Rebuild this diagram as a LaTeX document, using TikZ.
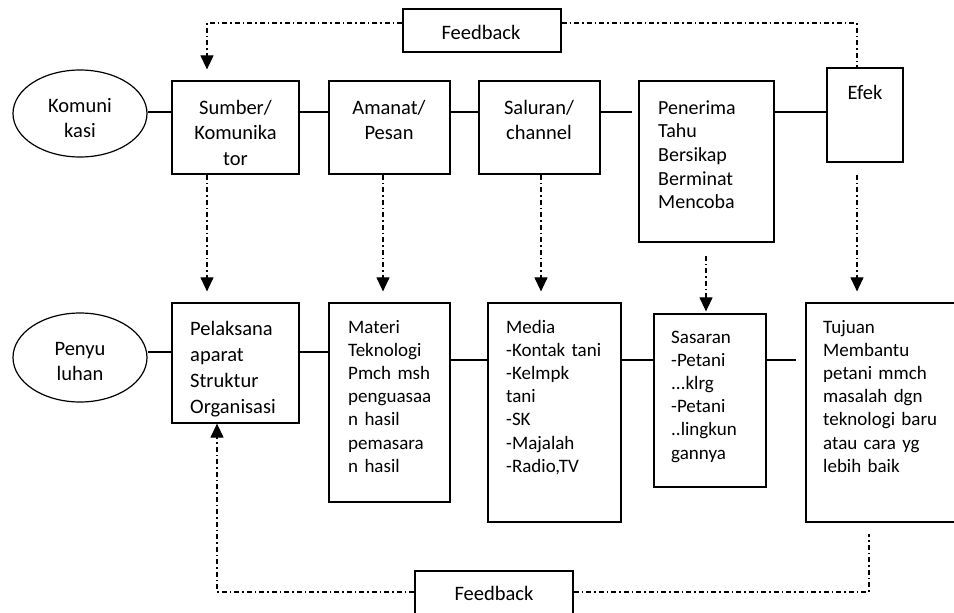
\documentclass[tikz,border=0pt]{standalone}
\usepackage{fontspec}
\setmainfont{Carlito}
\usetikzlibrary{arrows.meta,shapes.geometric}
\tikzset{
  box/.style={draw, line width=1.2pt, inner sep=0pt},
  oval/.style={draw, ellipse, line width=1.2pt, inner sep=0pt},
  bigtxt/.style={inner sep=0pt, font=\fontsize{20.5}{25.5}\selectfont, text width=150pt},
  smalltxt/.style={inner sep=0pt, font=\fontsize{19}{23.2}\selectfont, text width=150pt},
  link/.style={line width=1.2pt},
  fbline/.style={line width=1.1pt, dash pattern=on 5pt off 3pt on 1.5pt off 3pt},
  fbarrow/.style={fbline, -{Triangle[width=13pt,length=14pt]}}
}
\begin{document}
\begin{tikzpicture}[x=1pt,y=-1pt]
\useasboundingbox (0,0) rectangle (954,613);
\fill[white] (0,0) rectangle (954,613);
\clip (0,0) rectangle (954,613);

% ---- top row ----
\node[oval, minimum width=134, minimum height=87] (kom) at (80,113.5) {};
\node[box, minimum width=127, minimum height=93] (sum) at (235.5,127.5) {};
\node[box, minimum width=121, minimum height=93] (ama) at (389.5,127.5) {};
\node[box, minimum width=121, minimum height=93] (sal) at (539.5,127.5) {};
\node[box, minimum width=135, minimum height=161] (pen) at (706.5,161.5) {};
\node[box, minimum width=76, minimum height=94] (efk) at (865,115) {};
\node[box, minimum width=158, minimum height=43] (fbt) at (482,30.5) {};

\node[bigtxt, align=center, anchor=base] (komt) at (80,112) {Komuni\\kasi};
\node[bigtxt, align=center, anchor=base] (sumt) at (235.5,114) {Sumber/\\Komunika\\tor};
\node[bigtxt, align=center, anchor=base] (amat) at (389,114) {Amanat/\\Pesan};
\node[bigtxt, align=center, anchor=base] (salt) at (539,114) {Saluran/\\channel};
\node[bigtxt, align=left, anchor=base west, font=\fontsize{20}{23.7}\selectfont] (pent) at (658,114) {Penerima\\Tahu\\Bersikap\\Berminat\\Mencoba};
\node[bigtxt, align=center, anchor=base] (efkt) at (865,99) {Efek};
\node[bigtxt, align=center, anchor=base] (fbtt) at (481,39) {Feedback};

% ---- bottom row ----
\node[oval, minimum width=134, minimum height=89] (pny) at (80,357.5) {};
\node[box, minimum width=127, minimum height=120] (pel) at (235.5,363) {};
\node[box, minimum width=121, minimum height=199] (mat) at (389.5,402.5) {};
\node[box, minimum width=133, minimum height=219] (med) at (554.5,412.5) {};
\node[box, minimum width=112, minimum height=173] (sas) at (710,400.5) {};
\node[box, minimum width=164, minimum height=219] (tuj) at (888,412.5) {};
\node[box, minimum width=158, minimum height=54] (fbb) at (494,598) {};

\node[bigtxt, align=center, anchor=base] (pnyt) at (80,355) {Penyu\\luhan};
\node[bigtxt, align=left, anchor=base west, font=\fontsize{20.5}{26.3}\selectfont] (pelt) at (190,335) {Pelaksana\\aparat\\Struktur\\Organisasi};
\node[smalltxt, align=left, anchor=base west] (matt) at (348,333) {Materi\\Teknologi\\Pmch msh\\penguasaa\\n hasil\\pemasara\\n hasil};
\node[smalltxt, align=left, anchor=base west] (medt) at (506,333) {Media\\-Kontak tani\\-Kelmpk\\tani\\-SK\\-Majalah\\-Radio,TV};
\node[smalltxt, align=left, anchor=base west] (sast) at (671,343) {Sasaran\\-Petani\\...klrg\\-Petani\\..lingkun\\gannya};
\node[smalltxt, align=left, anchor=base west] (tujt) at (823,333) {Tujuan\\Membantu\\petani mmch\\masalah dgn\\teknologi baru\\atau cara yg\\lebih baik};
\node[bigtxt, align=center, anchor=base] (fbbt) at (494,600) {Feedback};

% ---- solid links ----
\draw[link] (kom.east |- 0,112) -- (sum.west |- 0,112);
\draw[link] (sum.east |- 0,112) -- (ama.west |- 0,112);
\draw[link] (ama.east |- 0,112) -- (sal.west |- 0,112);
\coordinate (salend) at (632,112);
\draw[link] (sal.east |- 0,112) -- (salend);
\draw[link] (pen.east |- 0,112) -- (efk.west |- 0,112);

\draw[link] (pny.east |- 0,352) -- (pel.west |- 0,352);
\draw[link] (pel.east |- 0,352) -- (mat.west |- 0,352);
\draw[link] (mat.east |- 0,360) -- (med.west |- 0,360);
\draw[link] (med.east |- 0,360) -- (sas.west |- 0,360);
\coordinate (sasend) at (796,360);
\draw[link] (sas.east |- 0,360) -- (sasend);

% ---- vertical dashed arrows ----
\draw[fbarrow, shorten >=11pt] (sum.south -| 207,0) -- (pel.north -| 207,0);
\draw[fbarrow, shorten >=11pt] (ama.south -| 383,0) -- (mat.north -| 383,0);
\draw[fbarrow, shorten >=11pt] (sal.south -| 541,0) -- (med.north -| 541,0);
\draw[fbarrow, shorten <=13pt, shorten >=2pt] (pen.south -| 706,0) -- (sas.north -| 706,0);
\draw[fbarrow, shorten <=12pt, shorten >=11pt] (efk.south -| 857,0) -- (tuj.north -| 857,0);

% ---- feedback loops ----
\draw[fbarrow, shorten >=11pt] (fbt.west |- 0,23) -| (sum.north -| 207,0);
\draw[fbline] (fbt.east |- 0,23) -| (efk.north -| 857,0);

\draw[fbarrow] (fbb.west |- 0,592) -| (pel.south -| 217,0);
\draw[fbline, shorten >=11pt] (fbb.east |- 0,592) -| (tuj.south -| 869,0);
\end{tikzpicture}
\end{document}
